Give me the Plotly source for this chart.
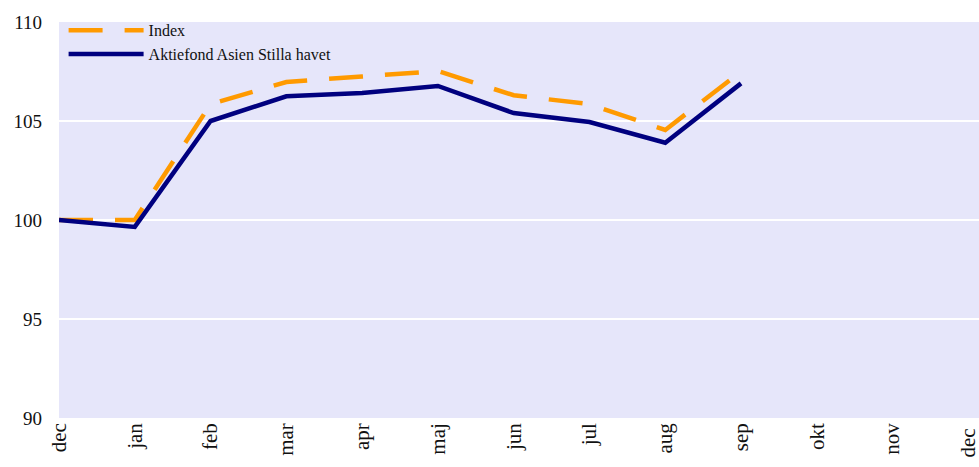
import plotly.graph_objects as go

months = ["dec", "jan", "feb", "mar", "apr", "maj", "jun", "jul", "aug", "sep", "okt", "nov", "dec "]
index_vals = [100.0, 100.0, 105.85, 106.97, 107.25, 107.52, 106.3, 105.85, 104.55, 107.5]
fund_vals = [100.0, 99.65, 105.0, 106.25, 106.42, 106.77, 105.4, 104.95, 103.9, 106.9]

font_family = "Liberation Serif, DejaVu Serif, serif"

fig = go.Figure()
fig.add_trace(go.Scatter(
    x=months[:len(index_vals)], y=index_vals, mode="lines", name="Index",
    line=dict(color="#FF9A00", width=4.5, dash="34px,22px"),
))
fig.add_trace(go.Scatter(
    x=months[:len(fund_vals)], y=fund_vals, mode="lines", name="Aktiefond Asien Stilla havet",
    line=dict(color="#00007F", width=4.5),
))

fig.update_layout(
    width=979, height=467,
    margin=dict(l=59, r=0, t=22, b=49),
    paper_bgcolor="white",
    plot_bgcolor="#E6E6FA",
    font=dict(family=font_family, size=18, color="#111111"),
    showlegend=True,
    legend=dict(
        x=0.005, y=1.022, xanchor="left", yanchor="top",
        bgcolor="rgba(0,0,0,0)", font=dict(size=16, family=font_family),
        tracegroupgap=0, itemwidth=75,
    ),
    xaxis=dict(
        type="category", categoryorder="array", categoryarray=months,
        range=[0, 12.14], tickangle=-90, automargin=False,
        showgrid=False, zeroline=False, showline=False,
        tickfont=dict(size=21), ticks="",
    ),
    yaxis=dict(
        range=[90, 110], tickvals=[90, 95, 100, 105, 110], automargin=False,
        showgrid=True, gridcolor="white", gridwidth=2,
        zeroline=False, showline=False, ticks="", ticklabelstandoff=16,
        tickfont=dict(size=19),
    ),
)

fig.write_html(
    "out.html",
    config={"displayModeBar": False},
    post_script="document.body.style.margin='0px';document.body.style.overflow='hidden';",
)
